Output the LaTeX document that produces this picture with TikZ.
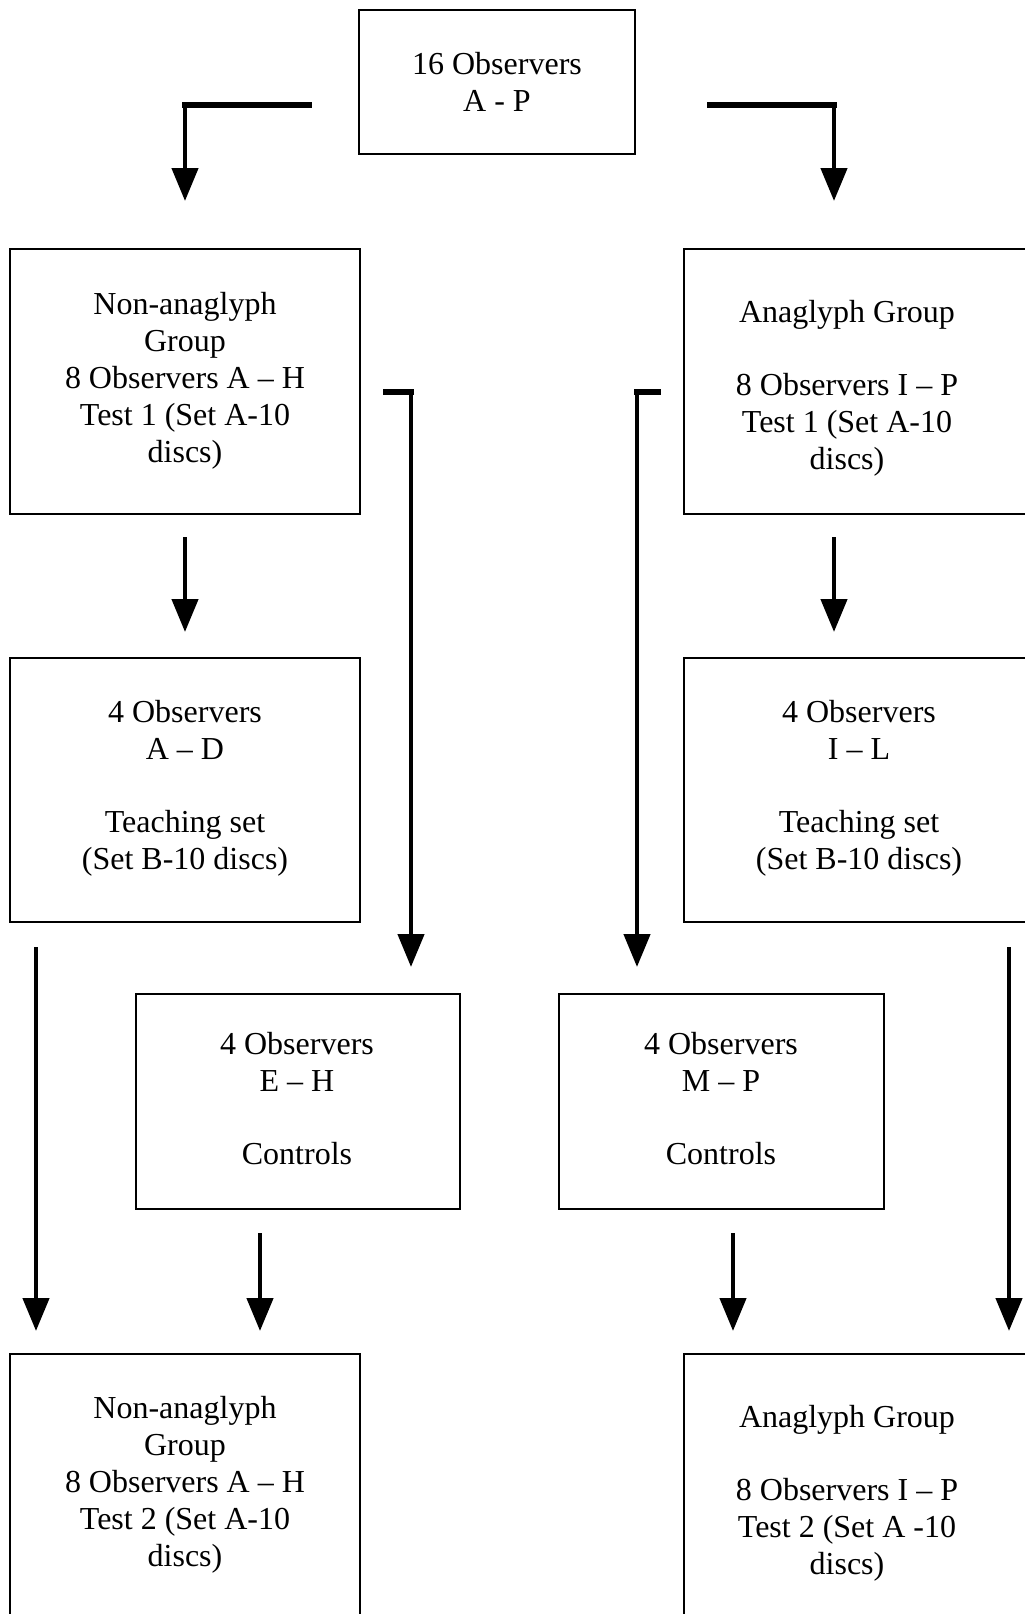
\documentclass[tikz,border=0pt]{standalone}
\usepackage{fontspec}
\setmainfont{Liberation Serif}
\usetikzlibrary{arrows.meta}
\begin{document}
\begin{tikzpicture}[x=1pt,y=-1pt,
  boxarea/.style={minimum width=#1, inner sep=0pt, outer sep=0pt},
  framed/.style={draw, line width=1.6pt},
  txt/.style={font=\fontsize{32}{37}\selectfont, align=center, inner sep=0pt},
  arr/.style={line width=4.5pt, -{Triangle[length=33pt,width=26pt]}},
  hbar/.style={line width=6pt, line cap=rect},
  edge/.style={line width=1.6pt}]
\useasboundingbox (0,0) rectangle (1025,1614);
% boxes
\node[boxarea=276pt, minimum height=144pt, framed] (top) at (497,82) {};
\node[boxarea=350pt, minimum height=265pt, framed] (L1) at (185,381.5) {};
\node[boxarea=341pt, minimum height=265pt] (R1) at (854.5,381.5) {};
\node[boxarea=350pt, minimum height=264pt, framed] (L2) at (185,790) {};
\node[boxarea=341pt, minimum height=264pt] (R2) at (854.5,790) {};
\node[boxarea=324pt, minimum height=215pt, framed] (L3) at (298,1101.5) {};
\node[boxarea=325pt, minimum height=215pt, framed] (R3) at (721.5,1101.5) {};
\node[boxarea=350pt, minimum height=260pt] (L4) at (185,1484) {};
\node[boxarea=341pt, minimum height=260pt] (R4) at (854.5,1484) {};
% open borders
\draw[edge] (R1.north east) -- (R1.north west) -- (R1.south west) -- (R1.south east);
\draw[edge] (R2.north east) -- (R2.north west) -- (R2.south west) -- (R2.south east);
\draw[edge] (L4.south west) -- (L4.north west) -- (L4.north east) -- (L4.south east);
\draw[edge] (R4.north east) -- (R4.north west) -- (R4.south west);
% texts
\node[txt] (topt) at (497,82) {16 Observers\\A - P};
\node[txt] (L1t) at (185,381) {Non-anaglyph\\Group\\8 Observers A – H\\Test 1 (Set A-10\\discs)};
\node[txt] (R1t) at (847,388) {Anaglyph Group\\[36pt]8 Observers I – P\\Test 1 (Set A-10\\discs)};
\node[txt] (L2t) at (185,788) {4 Observers\\A – D\\[36pt]Teaching set\\(Set B-10 discs)};
\node[txt] (R2t) at (859,788) {4 Observers\\I – L\\[36pt]Teaching set\\(Set B-10 discs)};
\node[txt] (L3t) at (297,1099) {4 Observers\\E – H\\[36pt]Controls};
\node[txt] (R3t) at (721,1099) {4 Observers\\M – P\\[36pt]Controls};
\node[txt] (L4t) at (185,1485) {Non-anaglyph\\Group\\8 Observers A – H\\Test 2 (Set A-10\\discs)};
\node[txt] (R4t) at (847,1493) {Anaglyph Group\\[36pt]8 Observers I – P\\Test 2 (Set A -10\\discs)};
% connector anchor points
\coordinate (tl) at (309,105);
\coordinate (tr) at (710,105);
\coordinate (c2) at (386,392);
\coordinate (c3) at (658,392);
\coordinate (R1in) at ([xshift=150pt]R1.north west);
\coordinate (R1out) at ([xshift=150pt]R1.south west);
\coordinate (R2in) at ([xshift=150pt]R2.north west);
\coordinate (L3in) at ([xshift=-49pt]L3.north east);
\coordinate (R3in) at ([xshift=78pt]R3.north west);
\coordinate (L2out) at ([xshift=26pt]L2.south west);
\coordinate (L4in) at ([xshift=26pt]L4.north west);
\coordinate (R2out) at ([xshift=325pt]R2.south west);
\coordinate (R4in) at ([xshift=325pt]R4.north west);
\coordinate (L3out) at ([xshift=-38pt]L3.south);
\coordinate (R3out) at ([xshift=11.5pt]R3.south);
% connectors
\draw[arr, shorten >=48pt] (tl) -| (L1.north);
\draw[hbar] (tl) -- (tl -| L1.north);
\draw[arr, shorten >=48pt] (tr) -| (R1in);
\draw[hbar] (tr) -- (tr -| R1in);
\draw[arr, shorten <=23pt, shorten >=26pt] (L1.south) -- (L2.north);
\draw[arr, shorten <=23pt, shorten >=26pt] (R1out) -- (R2in);
\draw[arr, shorten >=27pt] (c2) -| (L3in);
\draw[hbar] (c2) -- (c2 -| L3in);
\draw[arr, shorten >=27pt] (c3) -| (R3in);
\draw[hbar] (c3) -- (c3 -| R3in);
\draw[arr, shorten <=25pt, shorten >=23pt] (L2out) -- (L4in);
\draw[arr, shorten <=25pt, shorten >=23pt] (R2out) -- (R4in);
\draw[arr, shorten <=24pt, shorten >=23pt] (L3out) -- (L3out |- L4.north);
\draw[arr, shorten <=24pt, shorten >=23pt] (R3out) -- (R3out |- R4.north);
\end{tikzpicture}
\end{document}
